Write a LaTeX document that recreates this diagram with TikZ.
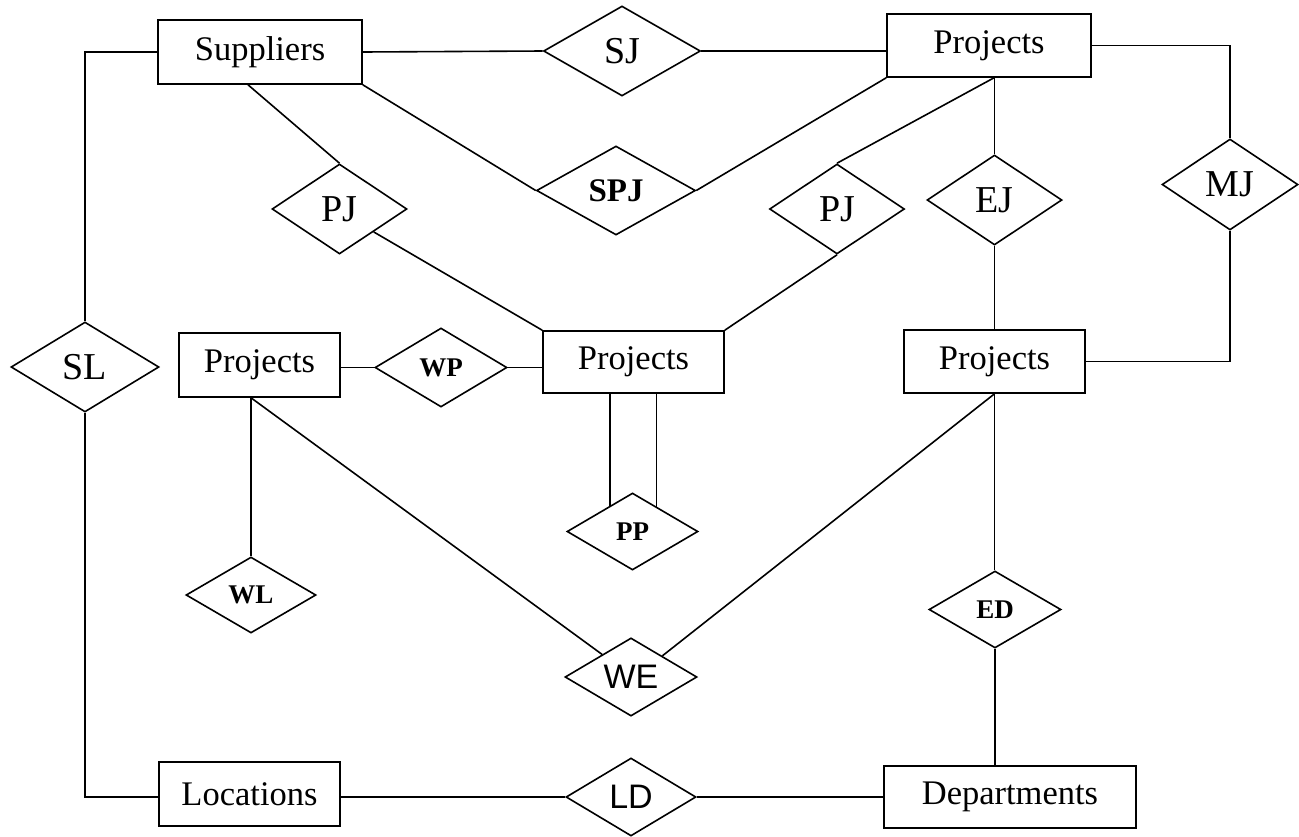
\documentclass[tikz,border=0pt]{standalone}
\usepackage{fontspec}
\setmainfont{Liberation Serif}
\newfontfamily\arialf{Liberation Sans}
\usetikzlibrary{shapes.geometric}
\tikzset{
  ent/.style={draw, line width=1.6pt, rectangle, inner sep=0pt, font=\fontsize{34.5}{40}\selectfont},
  rel/.style={draw, line width=1.6pt, diamond, inner sep=0pt, font=\fontsize{38}{44}\selectfont},
  relb/.style={rel, font=\fontsize{27}{32}\selectfont\bfseries},
  rela/.style={rel, font=\fontsize{34}{40}\selectfont\arialf},
  conn/.style={line width=1.6pt},
}
\begin{document}
\begin{tikzpicture}[x=1pt, y=-1pt]
\useasboundingbox (0,0) rectangle (1299,836);
% entities
\node[ent, minimum width=204pt, minimum height=64pt] (Sup) at (260,52) {Suppliers};
\node[ent, minimum width=204pt, minimum height=63pt] (PrT) at (989,45.5) {Projects};
\node[ent, minimum width=161pt, minimum height=64pt] (PrL) at (259.5,365) {Projects};
\node[ent, minimum width=181pt, minimum height=62pt] (PrM) at (633.5,362) {Projects};
\node[ent, minimum width=181pt, minimum height=63pt] (PrR) at (994.5,361.5) {Projects};
\node[ent, minimum width=181pt, minimum height=64pt] (Loc) at (249.5,794) {Locations};
\node[ent, minimum width=252pt, minimum height=62pt] (Dep) at (1010,797) {Departments};
% relationships
\node[rel, minimum width=157pt, minimum height=90pt] (SJ) at (622,51) {SJ};
\node[rel, font=\fontsize{33}{38}\selectfont\bfseries, minimum width=159pt, minimum height=89pt] (SPJ) at (616,190.5) {SPJ};
\node[rel, minimum width=135pt, minimum height=90pt] (PJa) at (339.5,209) {PJ};
\node[rel, minimum width=135pt, minimum height=90pt] (PJb) at (837,209) {PJ};
\node[rel, minimum width=135pt, minimum height=90pt] (EJ) at (994.5,200) {EJ};
\node[rel, minimum width=136pt, minimum height=91pt] (MJ) at (1230,184.5) {MJ};
\node[rel, minimum width=148pt, minimum height=90pt] (SL) at (85,367) {SL};
\node[relb, minimum width=132pt, minimum height=79pt] (WP) at (441,367.5) {WP};
\node[relb, minimum width=131pt, minimum height=77pt] (PP) at (632.5,531.5) {PP};
\node[relb, minimum width=130pt, minimum height=76pt] (WL) at (251,595) {WL};
\node[rela, minimum width=132pt, minimum height=78pt] (WE) at (631,677) {WE};
\node[relb, minimum width=132pt, minimum height=77pt] (ED) at (995,609.5) {ED};
\node[rela, minimum width=130pt, minimum height=78pt] (LD) at (631,797) {LD};
% connectors
\draw[conn] (Sup.east) -- (SJ.west);
\draw[conn] (SJ.east) -- (SJ.east -| PrT.west);
\draw[conn] ([xshift=-12pt]Sup.south) -- (PJa.north);
\draw[conn] (Sup.south east) -- (SPJ.west);
\draw[conn] (SPJ.east) -- (PrT.south west);
\draw[conn] (PJb.north) -- ([xshift=5pt]PrT.south);
\draw[conn] (EJ.north |- PrT.south) -- (EJ.north);
\draw[conn] (EJ.south) -- (EJ.south |- PrR.north);
\draw[conn] (PrT.east) -- (MJ.north |- PrT.east) -- (MJ.north);
\draw[conn] (MJ.south) |- (PrR.east);
\draw[conn] (PJa.south east) -- (PrM.north west);
\draw[conn] (PJb.south) -- (PrM.north east);
\draw[conn] (WP.west -| PrL.east) -- (WP.west);
\draw[conn] (WP.east) -- (WP.east -| PrM.west);
\draw[conn] (PP.131) -- (PP.131 |- PrM.south);
\draw[conn] (PP.46) -- (PP.46 |- PrM.south);
\draw[conn] (WL.north |- PrL.south) -- (WL.north);
\draw[conn] (WL.north |- PrL.south) -- (WE.142);
\draw[conn] (WE.34) -- (PrR.south);
\draw[conn] (PrR.south) -- (PrR.south |- ED.north);
\draw[conn] (ED.south) -- (ED.south |- Dep.north);
\draw[conn] (Sup.west) -| (SL.north);
\draw[conn] (SL.south) |- (LD.west -| Loc.west);
\draw[conn] (LD.west -| Loc.east) -- (LD.west);
\draw[conn] (LD.east) -- (LD.east -| Dep.west);
\end{tikzpicture}
\end{document}
